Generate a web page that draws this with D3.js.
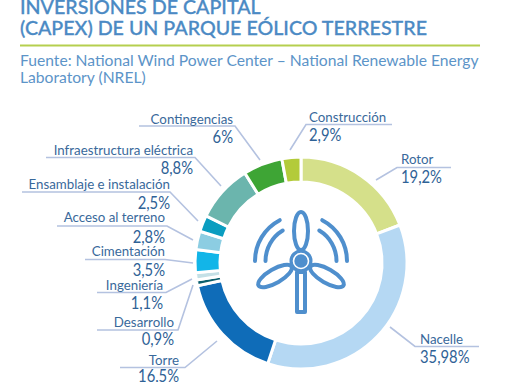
<!DOCTYPE html>
<html>
<head>
<meta charset="utf-8">
<script src="https://cdn.jsdelivr.net/npm/d3@7"></script>
<style>
html, body { margin: 0; padding: 0; background: #fff; overflow: hidden; }
svg { display: block; font-family: Lato, sans-serif; }
</style>
</head>
<body>
<div id="chart"></div>
<script>
// Chart data
const categories = ["Rotor", "Nacelle", "Torre", "Desarrollo", "Ingeniería", "Cimentación",
    "Acceso al terreno", "Ensamblaje e instalación", "Infraestructura eléctrica", "Contingencias", "Construcción"];
const values = [19.2, 35.98, 16.5, 0.9, 1.1, 3.5, 2.8, 2.5, 8.8, 6, 2.9];
const valueLabels = ["19,2%", "35,98%", "16,5%", "0,9%", "1,1%", "3,5%", "2,8%", "2,5%", "8,8%", "6%", "2,9%"];
const titleLines = ["INVERSIONES DE CAPITAL", "(CAPEX) DE UN PARQUE EÓLICO TERRESTRE"];
const sourceLines = ["Fuente: National Wind Power Center – National Renewable Energy", "Laboratory (NREL)"];

const colors = ["#d5e08a", "#b5d8f3", "#0f6cb8", "#0a5f6e", "#c4e0e6", "#12b5e8",
    "#8ccde2", "#0a9dc0", "#6bb5ad", "#3ea535", "#b3cb3a"];

// Leader lines and label anchors, same order as categories
const callouts = [
    { line: [[376, 180], [397, 167.5], [451, 167.5]], x: 401, y1: 164, y2: 183, anchor: "start" },
    { line: [[390, 327], [415, 346.5], [479, 346.5]], x: 420, y1: 344, y2: 363, anchor: "start" },
    { line: [[217, 341], [185, 367.5], [120, 367.5]], x: 179, y1: 365, y2: 382, anchor: "end" },
    { line: [[193, 285], [178, 330], [97, 330]], x: 174, y1: 327, y2: 345, anchor: "end" },
    { line: [[192, 279], [166, 292.5], [97, 292.5]], x: 163, y1: 290, y2: 309, anchor: "end" },
    { line: [[193, 263], [165, 259.5], [85, 259.5]], x: 165, y1: 256, y2: 276, anchor: "end" },
    { line: [[193, 240], [167, 226], [57, 226]], x: 165, y1: 222, y2: 243, anchor: "end" },
    { line: [[198, 221], [170, 192], [22, 192]], x: 170, y1: 189, y2: 209, anchor: "end" },
    { line: [[221, 186], [195, 157.5], [46, 157.5]], x: 193, y1: 155, y2: 174, anchor: "end" },
    { line: [[260, 160], [235, 126], [139, 126]], x: 233, y1: 124, y2: 143, anchor: "end" },
    { line: [[290, 150], [306, 124.5], [392, 124.5]], x: 309, y1: 122, y2: 141, anchor: "start" }
];

const width = 510, height = 382;
const cx = 301, cy = 263, outer = 106, inner = 81;
const hub = { x: 301, y: 261 };
const iconColor = "#4f8fcd";

const svg = d3.select("#chart")
    .append("svg")
    .attr("width", width)
    .attr("height", height);

// Header
svg.selectAll(".title")
    .data(titleLines)
    .enter()
    .append("text")
    .attr("class", "title")
    .attr("x", 20)
    .attr("y", (d, i) => 14 + i * 21)
    .attr("font-size", 19.65)
    .attr("font-weight", 500)
    .attr("fill", "#4b8ac4")
    .attr("stroke", "#4b8ac4")
    .attr("stroke-width", 0.3)
    .text(d => d);

svg.append("line")
    .attr("x1", 20).attr("x2", 480)
    .attr("y1", 45.5).attr("y2", 45.5)
    .attr("stroke", "#b5cf4e")
    .attr("stroke-width", 2);

svg.selectAll(".source")
    .data(sourceLines)
    .enter()
    .append("text")
    .attr("class", "source")
    .attr("x", 20)
    .attr("y", (d, i) => 66 + i * 17)
    .attr("font-size", 15.65)
    .attr("fill", "#5c94c8")
    .text(d => d);

// Donut
const pie = d3.pie().sort(null)(values);
const arc = d3.arc().innerRadius(inner).outerRadius(outer);

svg.append("g")
    .attr("transform", `translate(${cx},${cy})`)
    .selectAll("path")
    .data(pie)
    .enter()
    .append("path")
    .attr("d", arc)
    .attr("fill", (d, i) => colors[i])
    .attr("stroke", "#fff")
    .attr("stroke-width", 3);

// Callouts
const lineGen = d3.line();
svg.selectAll(".leader")
    .data(callouts)
    .enter()
    .append("path")
    .attr("class", "leader")
    .attr("d", d => lineGen(d.line))
    .attr("fill", "none")
    .attr("stroke", "#b4c2e0")
    .attr("stroke-width", 1.6);

svg.selectAll(".cat")
    .data(callouts)
    .enter()
    .append("text")
    .attr("class", "cat")
    .attr("x", d => d.x)
    .attr("y", d => d.y1)
    .attr("text-anchor", d => d.anchor)
    .attr("font-size", 13.3)
    .attr("fill", "#39699b")
    .text((d, i) => categories[i]);

// Value digits are narrower and taller than Lato's, hence the x squeeze
svg.selectAll(".val")
    .data(callouts)
    .enter()
    .append("text")
    .attr("class", "val")
    .attr("transform", d => `translate(${d.x},${d.y2}) scale(0.87,1)`)
    .attr("text-anchor", d => d.anchor)
    .attr("font-size", 17)
    .attr("fill", "#2f6296")
    .text((d, i) => valueLabels[i]);

// Turbine icon
const icon = svg.append("g")
    .attr("transform", `translate(${hub.x},${hub.y})`)
    .attr("fill", "none")
    .attr("stroke", iconColor)
    .attr("stroke-width", 4)
    .attr("stroke-linecap", "round");

icon.selectAll(".blade")
    .data([0, 120, 240])
    .enter()
    .append("ellipse")
    .attr("class", "blade")
    .attr("cx", 0).attr("cy", -30)
    .attr("rx", 7).attr("ry", 19)
    .attr("transform", d => `rotate(${d})`);

// Sound-wave arcs either side of the blades
const waves = [
    { r: 46, a0: -Math.PI / 2, a1: -0.48 },
    { r: 35.5, a0: -Math.PI / 2, a1: -0.54 },
    { r: 46, a0: 0.48, a1: Math.PI / 2 },
    { r: 35.5, a0: 0.54, a1: Math.PI / 2 }
];
icon.selectAll(".wave")
    .data(waves)
    .enter()
    .append("path")
    .attr("class", "wave")
    .attr("d", d => {
        const p = d3.path();
        p.arc(0, 0, d.r, d.a0 - Math.PI / 2, d.a1 - Math.PI / 2);
        return p.toString();
    });

icon.append("rect")
    .attr("x", -4).attr("y", 11)
    .attr("width", 8).attr("height", 40)
    .attr("stroke-linejoin", "round");

icon.append("circle").attr("r", 11.5).attr("fill", iconColor).attr("stroke", "none");
icon.append("circle").attr("r", 7.5).attr("fill", iconColor).attr("stroke", "#fff").attr("stroke-width", 1.6);
</script>
</body>
</html>
